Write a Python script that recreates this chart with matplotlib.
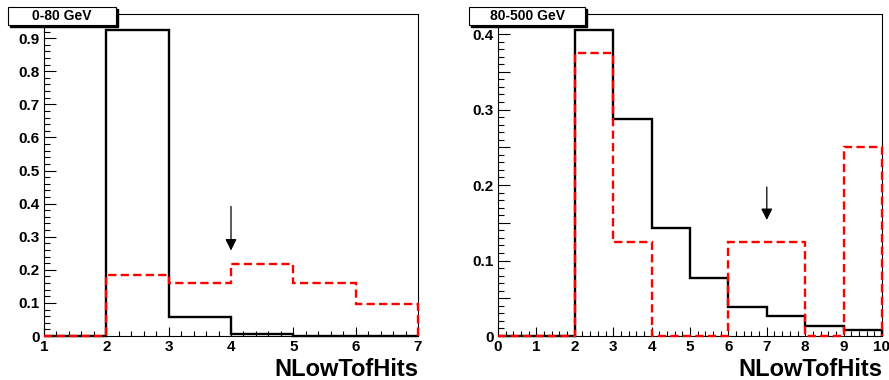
"""NLowTofHits distributions in two energy ranges (ROOT-style step histograms)."""

import matplotlib

matplotlib.use("Agg")
import matplotlib.pyplot as plt
from matplotlib.patches import Rectangle
from matplotlib.ticker import FuncFormatter, MultipleLocator

# --- data: normalised histogram contents per bin ---
left_edges = [1, 2, 3, 4, 5, 6, 7]
left_black = [0.0, 0.926, 0.058, 0.007, 0.0, 0.0]
left_red = [0.0, 0.184, 0.159, 0.217, 0.161, 0.096]
left_cut = 4
left_title = "0-80 GeV"

right_edges = [0, 1, 2, 3, 4, 5, 6, 7, 8, 9, 10]
right_black = [0.0, 0.0, 0.405, 0.288, 0.143, 0.077, 0.038, 0.026, 0.013, 0.008]
right_red = [0.0, 0.0, 0.375, 0.125, 0.0, 0.0, 0.125, 0.125, 0.0, 0.25]
right_cut = 7
right_title = "80-500 GeV"

xlabel = "NLowTofHits"

plt.rcParams["font.family"] = ["Liberation Sans", "DejaVu Sans"]
plt.rcParams["font.weight"] = "bold"

W, H = 889, 380
fig = plt.figure(figsize=(W / 100, H / 100), dpi=100)


def px_axes(x0, y0, x1, y1):
    # pixel box (top-left origin) -> figure fraction
    return fig.add_axes([x0 / W, 1 - y1 / H, (x1 - x0) / W, (y1 - y0) / H])


def fmt(v, _pos):
    v = round(v, 3)
    if v == 0:
        return "0"
    return f"{v:g}"


def title_box(x0, y0, x1, y1, text):
    tr = fig.transFigure
    sh = 2
    fig.patches.append(Rectangle(((x0 + sh) / W, 1 - (y1 + sh) / H), (x1 - x0) / W, (y1 - y0) / H,
                                 transform=tr, facecolor="black", edgecolor="black", zorder=5))
    fig.patches.append(Rectangle((x0 / W, 1 - y1 / H), (x1 - x0) / W, (y1 - y0) / H,
                                 transform=tr, facecolor="white", edgecolor="black", lw=0.8, zorder=6))
    fig.text((x0 + x1) / 2 / W, 1 - (y0 + y1) / 2 / H, text, ha="center", va="center",
             fontsize=10, fontweight="bold", zorder=7)


def draw_panel(ax, edges, black, red, cut, ymax, arrow_top, arrow_tip):
    ax.stairs(black, edges, color="black", lw=1.7, zorder=3, clip_on=False)
    ax.stairs(red, edges, color="red", lw=1.7, linestyle=(0, (3.5, 1.8)), zorder=4, clip_on=False)
    ax.annotate("", xy=(cut, arrow_tip), xytext=(cut, arrow_top),
                arrowprops=dict(arrowstyle="-|>", color="black", lw=0.9, mutation_scale=17))
    ax.set_xlim(edges[0], edges[-1])
    ax.set_ylim(0, ymax)
    ax.xaxis.set_major_locator(MultipleLocator(1))
    ax.xaxis.set_minor_locator(MultipleLocator(0.2))
    ax.yaxis.set_major_formatter(FuncFormatter(fmt))
    ax.tick_params(axis="both", which="both", direction="in", top=False, right=False,
                   labelsize=11, width=0.8)
    ax.tick_params(axis="x", which="major", length=6.5, pad=3)
    ax.tick_params(axis="x", which="minor", length=3.5)
    ax.tick_params(axis="y", which="major", length=8.5, pad=3)
    ax.tick_params(axis="y", which="minor", length=4.3)
    for lab in ax.get_xticklabels() + ax.get_yticklabels():
        lab.set_fontweight("bold")
    for s in ax.spines.values():
        s.set_linewidth(0.8)
    ax.set_xlabel(xlabel, loc="right", fontsize=17, fontweight="bold", labelpad=3)


ax1 = px_axes(44, 14, 418, 336)
draw_panel(ax1, left_edges, left_black, left_red, left_cut, 0.973, 0.40, 0.25)
ax1.yaxis.set_major_locator(MultipleLocator(0.1))
ax1.yaxis.set_minor_locator(MultipleLocator(0.02))

ax2 = px_axes(498, 14, 882, 336)
draw_panel(ax2, right_edges, right_black, right_red, right_cut, 0.4265, 0.201, 0.150)
ax2.yaxis.set_major_locator(MultipleLocator(0.05))
ax2.yaxis.set_minor_locator(MultipleLocator(0.01))
ax2.yaxis.set_major_formatter(FuncFormatter(
    lambda v, p: fmt(v, p) if abs(round(v / 0.1) * 0.1 - v) < 1e-6 else ""))

title_box(8, 7, 116, 25, left_title)
title_box(469, 7, 585, 25, right_title)

fig.savefig("out.png", dpi=100)
